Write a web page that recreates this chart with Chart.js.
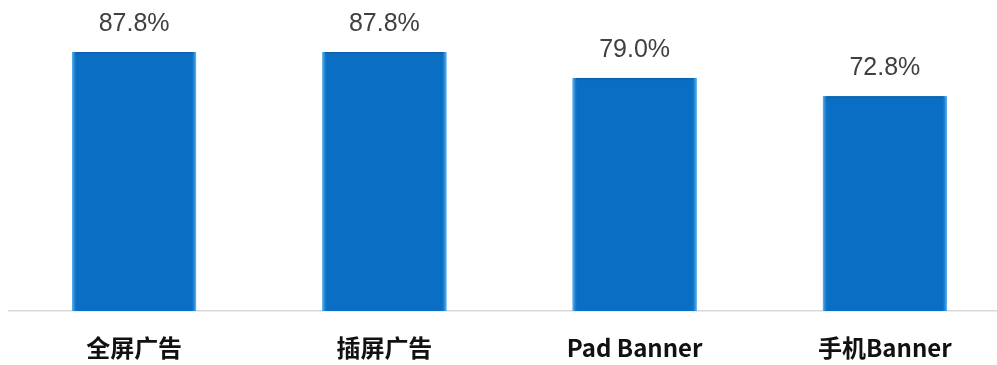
<!DOCTYPE html>
<html>
<head>
<meta charset="utf-8">
<script src="https://cdn.jsdelivr.net/npm/chart.js@4.4.0/dist/chart.umd.min.js"></script>
<style>
  html, body { margin: 0; padding: 0; background: #fff; overflow: hidden; }
  #wrap { width: 1010px; height: 365px; }
</style>
</head>
<body>
<div id="wrap"><canvas id="bars"></canvas></div>
<script>
// données
const categories = ["全屏广告", "插屏广告", "Pad Banner", "手机Banner"];
const values = [87.8, 87.8, 79.0, 72.8];
const yMax = 100;

// relief des barres + etiquettes de valeur
const barDeco = {
  id: 'barDeco',
  afterDatasetsDraw(chart) {
    const c = chart.ctx;
    const meta = chart.getDatasetMeta(0);
    c.save();
    meta.data.forEach((bar, i) => {
      const x0 = bar.x - bar.width / 2, x1 = bar.x + bar.width / 2;
      const top = bar.y, bottom = bar.base;
      let g = c.createLinearGradient(x0, 0, x0 + 5, 0);
      g.addColorStop(0, '#5DB8F4');
      g.addColorStop(1, 'rgba(10,111,196,0)');
      c.fillStyle = g;
      c.fillRect(x0, top, 5, bottom - top);
      g = c.createLinearGradient(x1 - 5, 0, x1, 0);
      g.addColorStop(0, 'rgba(10,111,196,0)');
      g.addColorStop(1, '#5DB8F4');
      c.fillStyle = g;
      c.fillRect(x1 - 5, top, 5, bottom - top);
      g = c.createLinearGradient(0, top, 0, top + 4);
      g.addColorStop(0, '#0B5FA8');
      g.addColorStop(1, 'rgba(10,111,196,0)');
      c.fillStyle = g;
      c.fillRect(x0 + 3, top, bar.width - 6, 4);
    });
    c.font = '25px "Liberation Sans", Arial, sans-serif';
    c.fillStyle = '#404040';
    c.textAlign = 'center';
    c.textBaseline = 'middle';
    meta.data.forEach((bar, i) => {
      c.fillText(values[i].toFixed(1) + '%', bar.x, bar.y - 28);
    });
    c.restore();
  }
};

new Chart(document.getElementById("bars"), {
  type: 'bar',
  data: {
    labels: categories,
    datasets: [{
      data: values,
      backgroundColor: '#0A6FC4',
      borderWidth: 0,
      barPercentage: 0.495,
      categoryPercentage: 1
    }]
  },
  options: {
    responsive: true,
    maintainAspectRatio: false,
    animation: false,
    layout: { padding: { left: 9, right: 0, top: 16, bottom: 0 } },
    plugins: { legend: { display: false }, tooltip: { enabled: false } },
    scales: {
      y: { display: false, min: 0, max: yMax },
      x: {
        afterFit(scale) { scale.height = 54; },
        grid: { display: false, drawTicks: false },
        border: { display: true, color: '#D9D9D9', width: 1.5 },
        ticks: {
          color: '#111',
          padding: 22,
          font: { size: 24, weight: 'bold', family: '"Noto Sans CJK SC", "Liberation Sans", sans-serif' }
        }
      }
    }
  },
  plugins: [barDeco]
});
</script>
</body>
</html>
